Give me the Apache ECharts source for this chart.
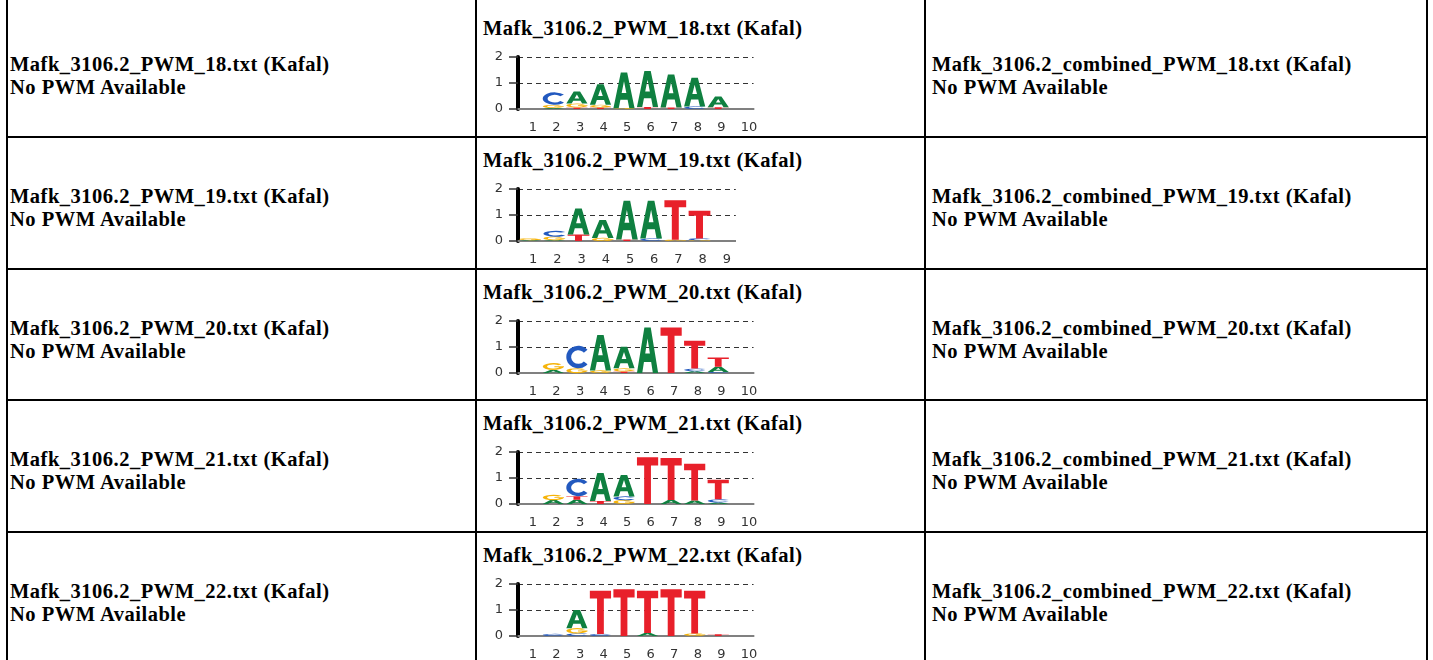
<!DOCTYPE html>
<html>
<head>
<meta charset="utf-8">
<script src="https://cdn.jsdelivr.net/npm/echarts@6/dist/echarts.min.js"></script>
<style>
  body { margin: 0; background: #ffffff; }
  .page { position: relative; width: 1433px; height: 660px; overflow: hidden; }
  .vline { position: absolute; top: 0; width: 2px; height: 660px; background: #000; }
  .hline { position: absolute; left: 6px; width: 1422px; height: 2px; background: #000; }
  .txt {
    position: absolute;
    font-family: "Liberation Serif", "Times New Roman", serif;
    font-weight: bold;
    font-size: 20.5px;
    line-height: 23px;
    letter-spacing: 0.5px;
    color: #000;
    white-space: nowrap;
  }
  .logo { position: absolute; left: 480px; height: 95px; overflow: hidden; }
</style>
</head>
<body>
<div class="page" id="page"></div>

<script>
// row tops (pixel) and the names in each row
var rowTops = [4, 136, 268, 399, 531];
var pwmNames = ['18', '19', '20', '21', '22'];
var positions = ['1', '2', '3', '4', '5', '6', '7', '8', '9', '10'];
var yTicks = [0, 1, 2];

// letter heights (bits), stacked bottom to top, one list per position
var pwm18 = [
  [],
  [['A', 0.04], ['G', 0.12], ['C', 0.48]],
  [['T', 0.06], ['G', 0.15], ['A', 0.46]],
  [['T', 0.06], ['G', 0.1], ['A', 0.79]],
  [['G', 0.03], ['A', 1.37]],
  [['T', 0.08], ['A', 1.38]],
  [['T', 0.06], ['A', 1.27]],
  [['C', 0.1], ['A', 1.1]],
  [['T', 0.07], ['A', 0.41]],
  []
];
var pwm19 = [
  [['A', 0.03], ['G', 0.08]],
  [['A', 0.03], ['G', 0.14], ['C', 0.22]],
  [['T', 0.25], ['A', 1.0]],
  [['G', 0.12], ['A', 0.69]],
  [['T', 0.06], ['A', 1.49]],
  [['C', 0.1], ['A', 1.45]],
  [['G', 0.05], ['T', 1.52]],
  [['G', 0.03], ['C', 0.07], ['T', 1.06]],
  []
];
var pwm20 = [
  [],
  [['A', 0.12], ['G', 0.26]],
  [['G', 0.18], ['C', 0.87]],
  [['G', 0.1], ['A', 1.36]],
  [['T', 0.06], ['G', 0.12], ['A', 0.83]],
  [['A', 1.75]],
  [['T', 1.75]],
  [['A', 0.07], ['C', 0.1], ['T', 1.07]],
  [['C', 0.04], ['A', 0.2], ['T', 0.36]],
  []
];
var pwm21 = [
  [],
  [['A', 0.15], ['G', 0.2]],
  [['A', 0.16], ['T', 0.14], ['C', 0.67]],
  [['T', 0.12], ['A', 1.07]],
  [['G', 0.15], ['C', 0.14], ['A', 0.83]],
  [['T', 1.8]],
  [['A', 0.15], ['T', 1.62]],
  [['A', 0.13], ['T', 1.42]],
  [['A', 0.06], ['C', 0.12], ['T', 0.75]],
  []
];
var pwm22 = [
  [],
  [['C', 0.08]],
  [['C', 0.1], ['G', 0.2], ['A', 0.7]],
  [['C', 0.08], ['T', 1.66]],
  [['T', 1.8]],
  [['A', 0.12], ['T', 1.62]],
  [['T', 1.8]],
  [['G', 0.1], ['T', 1.64]],
  [['T', 0.07]],
  []
];
var logos = [pwm18, pwm19, pwm20, pwm21, pwm22];

var letterColors = { A: '#0f8040', C: '#2259bf', G: '#f6b40a', T: '#e8202a' };
// glyph outlines in a 100x100 box, stretched into each stack slot
var letterPaths = {
  A: 'M0,100 L35,0 L65,0 L100,100 L75,100 L67,76 L33,76 L25,100 Z M39,57 L61,57 L50,24 Z',
  T: 'M0,0 L100,0 L100,18 L66,18 L66,100 L34,100 L34,18 L0,18 Z',
  C: 'M88.3,17.9 A50,50 0 1 0 88.3,82.1 L73,69.3 A30,30 0 1 1 73,30.7 Z',
  G: 'M88.3,17.9 A50,50 0 1 0 99.8,55 L79.8,55 A30,30 0 1 1 73,30.7 Z M55,45 L55,62 L100,62 L100,45 Z'
};

var page = document.getElementById('page');

function addDiv(cls, css, html) {
  var d = document.createElement('div');
  d.className = cls;
  d.style.cssText = css;
  if (html) d.innerHTML = html;
  page.appendChild(d);
  return d;
}

// table borders
[6, 475, 924, 1426].forEach(function (x) { addDiv('vline', 'left:' + x + 'px'); });
rowTops.slice(1).forEach(function (y) { addDiv('hline', 'top:' + y + 'px'); });

function renderLetter(params, api) {
  var x = api.value(0), y0 = api.value(1), y1 = api.value(2);
  var L = 'ACGT'.charAt(api.value(3));
  var p0 = api.coord([x, y0]);
  var p1 = api.coord([x, y1]);
  var bw = api.size([1, 0])[0] * 0.9;
  return {
    type: 'path',
    shape: {
      pathData: letterPaths[L],
      x: p0[0] - bw / 2,
      y: p1[1],
      width: bw,
      height: Math.max(p0[1] - p1[1], 0.5),
      layout: 'cover'
    },
    style: { fill: letterColors[L] }
  };
}

rowTops.forEach(function (top, r) {
  var name = 'Mafk_3106.2_PWM_' + pwmNames[r] + '.txt (Kafal)';
  var comb = 'Mafk_3106.2_combined_PWM_' + pwmNames[r] + '.txt (Kafal)';
  addDiv('txt', 'left:10px;top:' + (top + 48.5) + 'px', name + '<br>No PWM Available');
  addDiv('txt', 'left:932px;top:' + (top + 48.5) + 'px', comb + '<br>No PWM Available');
  addDiv('txt', 'left:483px;top:' + (top + 13) + 'px', name);

  var logo = logos[r];
  var n = logo.length;
  var band = 24.2;
  var w = Math.round(38 + n * band);
  var box = addDiv('logo', 'top:' + (top + 43) + 'px;width:' + w + 'px');

  var data = [];
  logo.forEach(function (stack, i) {
    var base = 0;
    stack.forEach(function (s) {
      data.push([i, base, base + s[1], 'ACGT'.indexOf(s[0])]);
      base += s[1];
    });
  });

  var chart = echarts.init(box, null, { renderer: 'canvas' });
  chart.setOption({
    animation: false,
    textStyle: { fontFamily: 'DejaVu Sans' },
    grid: { left: 38, right: w - 38 - n * band, top: 10, height: 52 },
    xAxis: {
      type: 'category',
      data: positions.slice(0, n),
      boundaryGap: true,
      axisLine: { lineStyle: { color: '#808080', width: 2 } },
      axisTick: { show: false },
      axisLabel: { color: '#333', fontSize: 13, margin: 12, align: 'left', padding: [0, 0, 0, -1] },
      splitLine: { show: false }
    },
    yAxis: {
      type: 'value',
      min: 0,
      max: 2,
      interval: 1,
      axisLine: { show: true, lineStyle: { color: '#000', width: 4 } },
      axisTick: { show: true, length: 9, lineStyle: { color: '#333', width: 1.5 } },
      axisLabel: {
        color: '#333', fontSize: 13, margin: 15,
        formatter: function (v) { return yTicks.indexOf(v) >= 0 ? String(v) : ''; }
      },
      splitLine: { show: true, lineStyle: { color: '#333', width: 1, type: [5, 4] } }
    },
    series: [{
      type: 'custom',
      renderItem: renderLetter,
      encode: { x: 0, y: [1, 2] },
      data: data,
      clip: false
    }]
  });
});
</script>
</body>
</html>
